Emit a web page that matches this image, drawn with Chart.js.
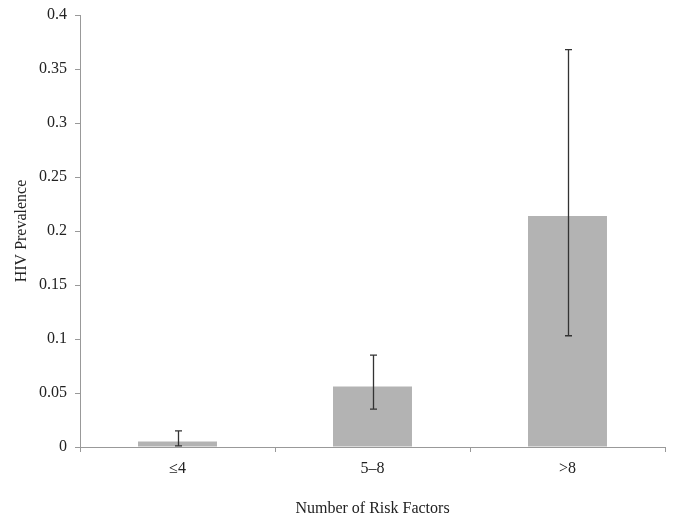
<!DOCTYPE html>
<html><head><meta charset="utf-8">
<script src="https://cdn.jsdelivr.net/npm/chart.js@4"></script>
<style>html,body{margin:0;padding:0;background:#fff;}#wrap{width:674px;height:518px;}</style>
</head><body><div id="wrap"><canvas id="c" width="674" height="518"></canvas></div>
<script>
const categories = ['≤4', '5–8', '>8'];
const prevalence = [0.005, 0.056, 0.214];
const ciLow = [0.001, 0.035, 0.103];
const ciHigh = [0.015, 0.085, 0.368];
const yTicks = [0, 0.05, 0.1, 0.15, 0.2, 0.25, 0.3, 0.35, 0.4];

const font = {family: '"Liberation Serif", "Times New Roman", serif', size: 16};

const errorBars = {
  id: 'errorBars',
  afterDatasetsDraw(chart) {
    const ctx = chart.ctx, y = chart.scales.y;
    const meta = chart.getDatasetMeta(0);
    ctx.save();
    ctx.strokeStyle = '#333';
    ctx.lineWidth = 1.3;
    meta.data.forEach((bar, i) => {
      const x = Math.round(bar.x) + 0.5;
      const y1 = y.getPixelForValue(ciLow[i]), y2 = y.getPixelForValue(ciHigh[i]);
      ctx.beginPath();
      ctx.moveTo(x, y1); ctx.lineTo(x, y2);
      ctx.moveTo(x - 3.5, y1); ctx.lineTo(x + 3.5, y1);
      ctx.moveTo(x - 3.5, y2); ctx.lineTo(x + 3.5, y2);
      ctx.stroke();
    });
    ctx.restore();
  }
};

new Chart(document.getElementById('c'), {
  type: 'bar',
  data: {labels: categories, datasets: [{data: prevalence, backgroundColor: '#b3b3b3', borderWidth: 0, barPercentage: 0.405, categoryPercentage: 1}]},
  options: {
    responsive: false, animation: false, devicePixelRatio: 1,
    layout: {padding: {left: 0, right: 9, top: 15, bottom: 0}},
    plugins: {legend: {display: false}, tooltip: {enabled: false}},
    scales: {
      x: {
        grid: {offset: true, drawOnChartArea: false, drawTicks: true, tickLength: 5, color: '#999'},
        border: {color: '#999', width: 1},
        ticks: {font, color: '#222', padding: 7},
        title: {display: true, text: 'Number of Risk Factors', font, color: '#222', padding: {top: 20, bottom: 0}},
        afterFit(s) { s.height = 71; }
      },
      y: {
        min: 0, max: 0.4,
        afterBuildTicks(s) { s.ticks = yTicks.map(v => ({value: v})); },
        grid: {drawOnChartArea: false, drawTicks: true, tickLength: 5, color: '#999'},
        border: {color: '#999', width: 1},
        ticks: {font, color: '#222', padding: 8, callback: v => String(v)},
        title: {display: true, text: 'HIV Prevalence', font, color: '#222', padding: {top: 12, bottom: 0}},
        afterFit(s) { s.width = 80; s.paddingTop = 0; s.paddingBottom = 0; }
      }
    }
  },
  plugins: [errorBars]
});
</script></body></html>
